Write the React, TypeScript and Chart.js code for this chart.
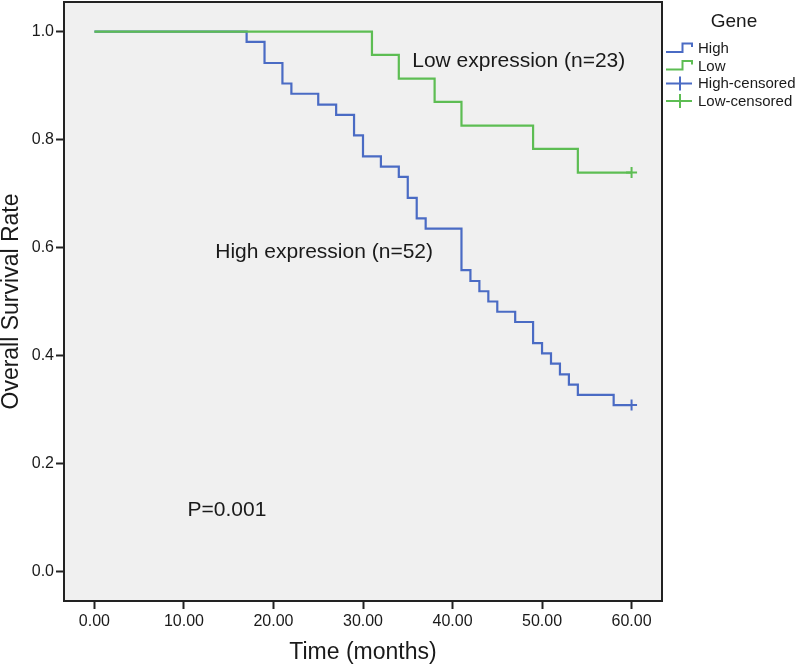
import React, { useEffect, useRef } from "react";
import { Chart, registerables } from "chart.js";

Chart.register(...registerables);

// ---- Data ----
const highTimes = [0, 17, 19, 21, 22, 25, 27, 29, 30, 32, 34, 35, 36, 37, 41, 42, 43, 44, 45, 47, 49, 50, 51, 52, 53, 54, 58, 60];
const highSurvival = [1.0, 0.981, 0.942, 0.904, 0.885, 0.865, 0.846, 0.808, 0.769, 0.75, 0.731, 0.692, 0.654, 0.635, 0.558, 0.538, 0.519, 0.5, 0.481, 0.462, 0.423, 0.404, 0.385, 0.365, 0.346, 0.327, 0.308, 0.308];

const lowTimes = [0, 31, 34, 38, 41, 49, 54, 60];
const lowSurvival = [1.0, 0.957, 0.913, 0.87, 0.826, 0.783, 0.739, 0.739];

const highCensoredTimes = [60];
const highCensoredSurvival = [0.308];
const lowCensoredTimes = [60];
const lowCensoredSurvival = [0.739];

const xTickValues = [0, 10, 20, 30, 40, 50, 60];
const yTickValues = [0, 0.2, 0.4, 0.6, 0.8, 1.0];

const legendTitle = "Gene";
const legendLabels = ["High", "Low", "High-censored", "Low-censored"];

const annotationTexts = ["Low expression (n=23)", "High expression (n=52)", "P=0.001"];
const annotationX = [35.5, 13.5, 10.4];
const annotationY = [0.945, 0.591, 0.114];

// ---- Styles ----
const BLUE = "#4a6bc4";
const GREEN = "#5dbd53";
const FONT = '"Liberation Sans", Arial, sans-serif';
const INK = "#1a1a1a";

const toPoints = (xs: number[], ys: number[]) => xs.map((x, i) => ({ x, y: ys[i] }));

const decorPlugin = {
  id: "decor",
  beforeDraw(chart: any) {
    const { ctx, chartArea } = chart;
    const { left, top, right, bottom } = chartArea;
    ctx.save();
    ctx.fillStyle = "#f0f0f0";
    ctx.fillRect(left, top, right - left, bottom - top);
    ctx.restore();
  },
  afterDraw(chart: any) {
    const { ctx, chartArea, scales } = chart;
    const { left, top, right, bottom } = chartArea;
    ctx.save();
    // frame
    ctx.strokeStyle = "#222";
    ctx.lineWidth = 2;
    ctx.strokeRect(left, top, right - left, bottom - top);

    // annotations
    ctx.fillStyle = INK;
    ctx.font = `21px ${FONT}`;
    ctx.textAlign = "left";
    ctx.textBaseline = "middle";
    annotationTexts.forEach((t, i) => {
      ctx.fillText(t, scales.x.getPixelForValue(annotationX[i]), scales.y.getPixelForValue(annotationY[i]));
    });

    // legend
    const lx = right + 4;
    ctx.font = `19px ${FONT}`;
    ctx.textAlign = "center";
    ctx.fillText(legendTitle, lx + 68, top + 20);
    const colors = [BLUE, GREEN, BLUE, GREEN];
    ctx.font = `15px ${FONT}`;
    ctx.textAlign = "left";
    legendLabels.forEach((lab, i) => {
      const cy = top + 46.5 + i * 17.5;
      ctx.strokeStyle = colors[i];
      ctx.lineWidth = 2;
      ctx.beginPath();
      if (i < 2) {
        ctx.moveTo(lx, cy + 3.5);
        ctx.lineTo(lx + 16.5, cy + 3.5);
        ctx.lineTo(lx + 16.5, cy - 5);
        ctx.lineTo(lx + 26, cy - 5);
        ctx.lineTo(lx + 26, cy - 1.5);
      } else {
        ctx.moveTo(lx, cy);
        ctx.lineTo(lx + 26, cy);
        ctx.moveTo(lx + 14, cy - 7);
        ctx.lineTo(lx + 14, cy + 7);
      }
      ctx.stroke();
      ctx.fillStyle = INK;
      ctx.fillText(lab, lx + 32, cy + 0.5);
    });
    ctx.restore();
  },
};

export default function App() {
  const ref = useRef<HTMLCanvasElement | null>(null);

  useEffect(() => {
    if (!ref.current) return;
    const chart = new Chart(ref.current, {
      type: "line",
      data: {
        datasets: [
          {
            label: "High",
            data: toPoints(highTimes, highSurvival),
            borderColor: BLUE,
            borderWidth: 2.2,
            stepped: "before",
            pointRadius: 0,
            fill: false,
            order: 2,
          },
          {
            label: "Low",
            data: toPoints(lowTimes, lowSurvival),
            borderColor: GREEN,
            borderWidth: 2.2,
            stepped: "before",
            pointRadius: 0,
            fill: false,
            order: 1,
          },
          {
            type: "scatter",
            label: "High-censored",
            data: toPoints(highCensoredTimes, highCensoredSurvival),
            borderColor: BLUE,
            backgroundColor: BLUE,
            pointStyle: "cross",
            pointRadius: 5.5,
            borderWidth: 2,
            showLine: false,
            order: 0,
          },
          {
            type: "scatter",
            label: "Low-censored",
            data: toPoints(lowCensoredTimes, lowCensoredSurvival),
            borderColor: GREEN,
            backgroundColor: GREEN,
            pointStyle: "cross",
            pointRadius: 5.5,
            borderWidth: 2,
            showLine: false,
            order: 0,
          },
        ] as any,
      },
      options: {
        animation: false,
        responsive: false,
        maintainAspectRatio: false,
        layout: { autoPadding: false, padding: { left: 0, top: 2, right: 138, bottom: 0 } },
        plugins: { legend: { display: false }, tooltip: { enabled: false } },
        scales: {
          x: {
            type: "linear",
            min: -3.4,
            max: 63.4,
            afterBuildTicks: (s: any) => {
              s.ticks = xTickValues.map((v) => ({ value: v }));
            },
            afterFit: (s: any) => {
              s.height = 66;
              s.paddingLeft = 0;
              s.paddingRight = 0;
            },
            grid: { drawOnChartArea: false, drawTicks: true, tickLength: 8, tickWidth: 2, tickColor: "#222" },
            border: { display: true, color: "#222", width: 2 },
            ticks: {
              padding: 3,
              color: INK,
              font: { family: FONT, size: 16 },
              callback: (v: any) => Number(v).toFixed(2),
              maxRotation: 0,
              autoSkip: false,
            },
            title: {
              display: true,
              text: "Time (months)",
              color: INK,
              font: { family: FONT, size: 23, lineHeight: 1 },
              padding: { top: 0, bottom: 3 },
            },
          },
          y: {
            type: "linear",
            min: -0.055,
            max: 1.055,
            afterBuildTicks: (s: any) => {
              s.ticks = yTickValues.map((v) => ({ value: v }));
            },
            afterFit: (s: any) => {
              s.width = 64;
              s.paddingTop = 0;
              s.paddingBottom = 0;
            },
            grid: { drawOnChartArea: false, drawTicks: true, tickLength: 8, tickWidth: 2, tickColor: "#222" },
            border: { display: true, color: "#222", width: 2 },
            ticks: {
              padding: 2,
              color: INK,
              font: { family: FONT, size: 16 },
              callback: (v: any) => Number(v).toFixed(1),
              autoSkip: false,
            },
            title: {
              display: true,
              text: "Overall Survival Rate",
              color: INK,
              font: { family: FONT, size: 23, lineHeight: 1 },
              padding: { top: 0, bottom: 0 },
            },
          },
        },
      },
      plugins: [decorPlugin],
    } as any);
    return () => chart.destroy();
  }, []);

  return (
    <div style={{ position: "fixed", left: 0, top: 0, width: 800, height: 667, background: "#fff" }}>
      <canvas ref={ref} width={800} height={667} style={{ width: 800, height: 667, display: "block" }} />
    </div>
  );
}
